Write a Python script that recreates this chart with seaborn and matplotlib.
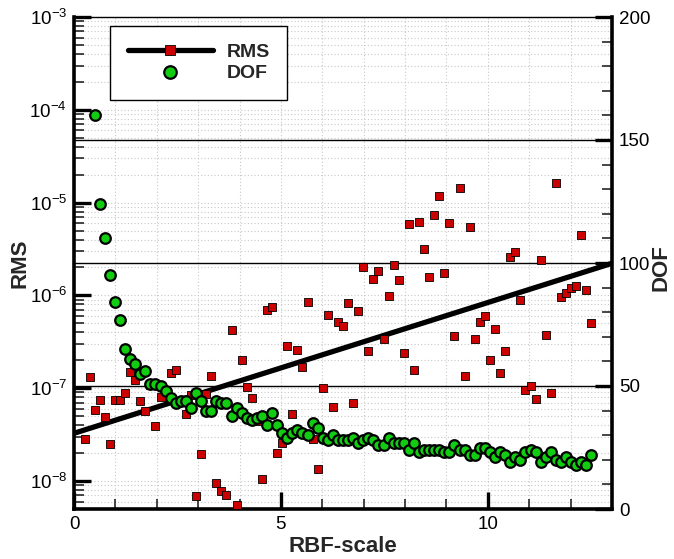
import numpy as np
import pandas as pd
import matplotlib
matplotlib.use("Agg")
import matplotlib.pyplot as plt
import seaborn as sns
from matplotlib.lines import Line2D
from matplotlib.ticker import (MultipleLocator, FixedLocator, LogLocator,
                               NullFormatter)
from matplotlib.transforms import blended_transform_factory

# RBF shape-parameter sweep
rbf_scale = [
    0.255, 0.377, 0.500, 0.622, 0.745, 0.867, 0.990, 1.112, 1.235, 1.357,
    1.480, 1.602, 1.724, 1.847, 1.969, 2.092, 2.214, 2.337, 2.459, 2.582,
    2.704, 2.826, 2.949, 3.071, 3.194, 3.316, 3.439, 3.561, 3.684, 3.806,
    3.929, 4.051, 4.173, 4.296, 4.418, 4.541, 4.663, 4.786, 4.908, 5.031,
    5.153, 5.275, 5.398, 5.520, 5.643, 5.765, 5.888, 6.010, 6.133, 6.255,
    6.378, 6.500, 6.622, 6.745, 6.867, 6.990, 7.112, 7.235, 7.357, 7.480,
    7.602, 7.724, 7.847, 7.969, 8.092, 8.214, 8.337, 8.459, 8.582, 8.704,
    8.826, 8.949, 9.071, 9.194, 9.316, 9.439, 9.561, 9.684, 9.806, 9.929,
    10.051, 10.173, 10.296, 10.418, 10.541, 10.663, 10.786, 10.908, 11.031, 11.153,
    11.275, 11.398, 11.520, 11.643, 11.765, 11.888, 12.010, 12.133, 12.255, 12.378,
    12.500,
]

# RMS error of the reconstruction at each scale
rms = [
    2.84e-8, 1.31e-7, 5.82e-8, 7.41e-8, 4.90e-8, 2.49e-8, 7.41e-8, 7.41e-8, 8.81e-8, 1.50e-7,
    1.22e-7, 7.28e-8, 5.72e-8, 1.08e-7, 3.91e-8, 8.10e-8, 9.56e-8, 1.47e-7, 1.57e-7, 7.10e-8,
    5.31e-8, 8.45e-8, 6.84e-9, 1.95e-8, 8.72e-8, 1.34e-7, 9.45e-9, 7.86e-9, 7.01e-9, 4.19e-7,
    5.54e-9, 2.03e-7, 1.04e-7, 7.90e-8, 4.43e-8, 1.05e-8, 6.96e-7, 7.46e-7, 2.02e-8, 2.57e-8,
    2.86e-7, 5.23e-8, 2.58e-7, 1.70e-7, 8.42e-7, 2.87e-8, 1.35e-8, 1.005e-7, 6.15e-7, 6.30e-8,
    5.11e-7, 4.68e-7, 8.22e-7, 6.88e-8, 6.84e-7, 2.01e-6, 2.55e-7, 1.50e-6, 1.84e-6, 3.37e-7,
    9.85e-7, 2.11e-6, 1.45e-6, 2.42e-7, 5.84e-6, 1.59e-7, 6.23e-6, 3.14e-6, 1.57e-6, 7.35e-6,
    1.19e-5, 1.73e-6, 6.06e-6, 3.68e-7, 1.43e-5, 1.35e-7, 5.50e-6, 3.39e-7, 5.11e-7, 6.07e-7,
    2.02e-7, 4.35e-7, 1.45e-7, 2.55e-7, 2.57e-6, 2.91e-6, 8.92e-7, 9.56e-8, 1.06e-7, 7.74e-8,
    2.39e-6, 3.74e-7, 8.94e-8, 1.61e-5, 9.61e-7, 1.05e-6, 1.19e-6, 1.27e-6, 4.48e-6, 1.15e-6,
    5.00e-7,
]

# degrees of freedom retained at each scale (first two are above 200)
dof = [
    np.nan, np.nan, 160, 124, 110, 95, 84, 77, 65, 61,
    59, 55, 56, 51, 51, 50, 48, 45, 43, 44,
    44, 41, 47, 44, 40, 40, 44, 43, 43, 38,
    41, 39, 37, 36, 37, 38, 34, 39, 34, 31,
    29, 31, 32, 31, 30, 35, 33, 29, 28, 30,
    28, 28, 28, 29, 27, 28, 29, 28, 26, 26,
    29, 27, 27, 27, 24, 27, 23, 24, 24, 24,
    24, 23, 23, 26, 24, 24, 22, 22, 25, 25,
    23, 21, 23, 22, 19, 21, 20, 23, 24, 23,
    19, 21, 23, 20, 19, 21, 19, 18, 19, 18,
    22,
]

# log-linear trend of the RMS error
trend_scale = [0.0, 13.0]
trend_rms = [3.27e-8, 2.22e-6]

dof_guides = [50, 100, 150]
x_minor = [1, 2, 3, 4, 6, 7, 8, 9, 11, 12, 13]

RED = "#cc0000"
GREEN = "#11cc11"

sns.set_theme(style="white")
plt.rcParams["font.family"] = ["Liberation Sans", "DejaVu Sans"]
plt.rcParams["mathtext.default"] = "regular"

df = pd.DataFrame({"RBF-scale": rbf_scale, "RMS": rms, "DOF": dof})
trend = pd.DataFrame({"RBF-scale": trend_scale, "RMS": trend_rms})

rect = [74 / 674, 50 / 559, 538 / 674, 492 / 559]
fig = plt.figure(figsize=(6.74, 5.59), dpi=100)

# background axes carrying only the dotted grid, so it sits under the ticks
bg = fig.add_axes(rect, zorder=0)
ax = fig.add_axes(rect, zorder=1, sharex=bg, sharey=bg)
ax.patch.set_visible(False)
ax.set_yscale("log")
ax2 = ax.twinx()
ax2.set_zorder(2)

ax.set_xlim(0, 13)
ax.set_ylim(5e-9, 1e-3)
ax2.set_ylim(0, 200)

ax.xaxis.set_major_locator(MultipleLocator(5))
ax.xaxis.set_minor_locator(FixedLocator(x_minor))
ax.yaxis.set_major_locator(LogLocator(base=10, numticks=20))
ax.yaxis.set_minor_locator(LogLocator(base=10, subs=np.arange(2, 10), numticks=20))
ax.yaxis.set_minor_formatter(NullFormatter())
ax2.yaxis.set_major_locator(MultipleLocator(50))
ax2.yaxis.set_minor_locator(MultipleLocator(10))

bg.grid(True, which="both", axis="both", color="#c8c8c8",
        linestyle=(0, (1, 2)), linewidth=0.8)
bg.tick_params(which="both", length=0, labelbottom=False, labelleft=False)
for s in bg.spines.values():
    s.set_visible(False)
ax.grid(False)
ax2.grid(False)

# solid guide lines at the DOF major ticks, kept underneath the markers
trans = blended_transform_factory(bg.transAxes, ax2.transData)
for d in dof_guides:
    bg.add_line(Line2D([0, 1], [d, d], transform=trans, color="black",
                       lw=1.0, zorder=3))

sns.lineplot(data=trend, x="RBF-scale", y="RMS", ax=ax, color="black",
             lw=3.8, zorder=2, legend=False)
sns.scatterplot(data=df, x="RBF-scale", y="RMS", ax=ax, marker="s", s=32,
                color=RED, edgecolor="black", linewidth=0.6, zorder=3,
                legend=False)
sns.scatterplot(data=df, x="RBF-scale", y="DOF", ax=ax2, marker="o", s=58,
                color=GREEN, edgecolor="black", linewidth=1.6, zorder=3,
                legend=False)

ax.set_xlim(0, 13)
ax.set_ylim(5e-9, 1e-3)
ax2.set_ylim(0, 200)

for a in (ax, ax2):
    for s in a.spines.values():
        s.set_color("black")
ax.spines["left"].set_linewidth(2.6)
ax.spines["bottom"].set_linewidth(2.6)
ax.spines["top"].set_linewidth(1.0)
ax.spines["right"].set_visible(False)
ax2.spines["right"].set_linewidth(2.6)
for k in ("left", "top", "bottom"):
    ax2.spines[k].set_visible(False)

ax.tick_params(which="major", direction="in", length=12, width=2.4,
               left=True, bottom=True, top=False, right=False,
               labelleft=True, labelbottom=True,
               labelsize=13.5, pad=5, colors="black")
ax.tick_params(which="minor", direction="in", length=7, width=1.2,
               left=True, bottom=True, top=False, right=False)
ax2.tick_params(which="major", direction="in", length=12, width=2.4,
                right=True, left=False, labelsize=13.5, pad=5, colors="black")
ax2.tick_params(which="minor", direction="in", length=7, width=1.2,
                right=True, left=False)

ax.set_xlabel("RBF-scale", fontsize=16, fontweight="bold", labelpad=2)
ax.set_ylabel("RMS", fontsize=16, fontweight="bold")
ax2.set_ylabel("DOF", fontsize=16, fontweight="bold")
ax.yaxis.set_label_coords(-0.08, 0.5)
ax2.yaxis.set_label_coords(1.072, 0.49)

rms_handle = Line2D([], [], color="black", lw=3.8, marker="s", markersize=7,
                    markerfacecolor=RED, markeredgecolor="black",
                    markeredgewidth=0.6)
dof_handle = Line2D([], [], ls="none", marker="o", markersize=9,
                    markerfacecolor=GREEN, markeredgecolor="black",
                    markeredgewidth=1.6)
leg = ax2.legend([rms_handle, dof_handle], ["RMS", "DOF"], loc="upper left",
                 bbox_to_anchor=(0.067, 0.982), frameon=True, fancybox=False,
                 edgecolor="black", framealpha=1,
                 prop={"weight": "bold", "size": 14}, handlelength=4.4,
                 handletextpad=0.7, borderpad=0.9, labelspacing=0.2,
                 borderaxespad=0)
leg.get_frame().set_linewidth(1.0)

fig.savefig("out.png", dpi=100)
